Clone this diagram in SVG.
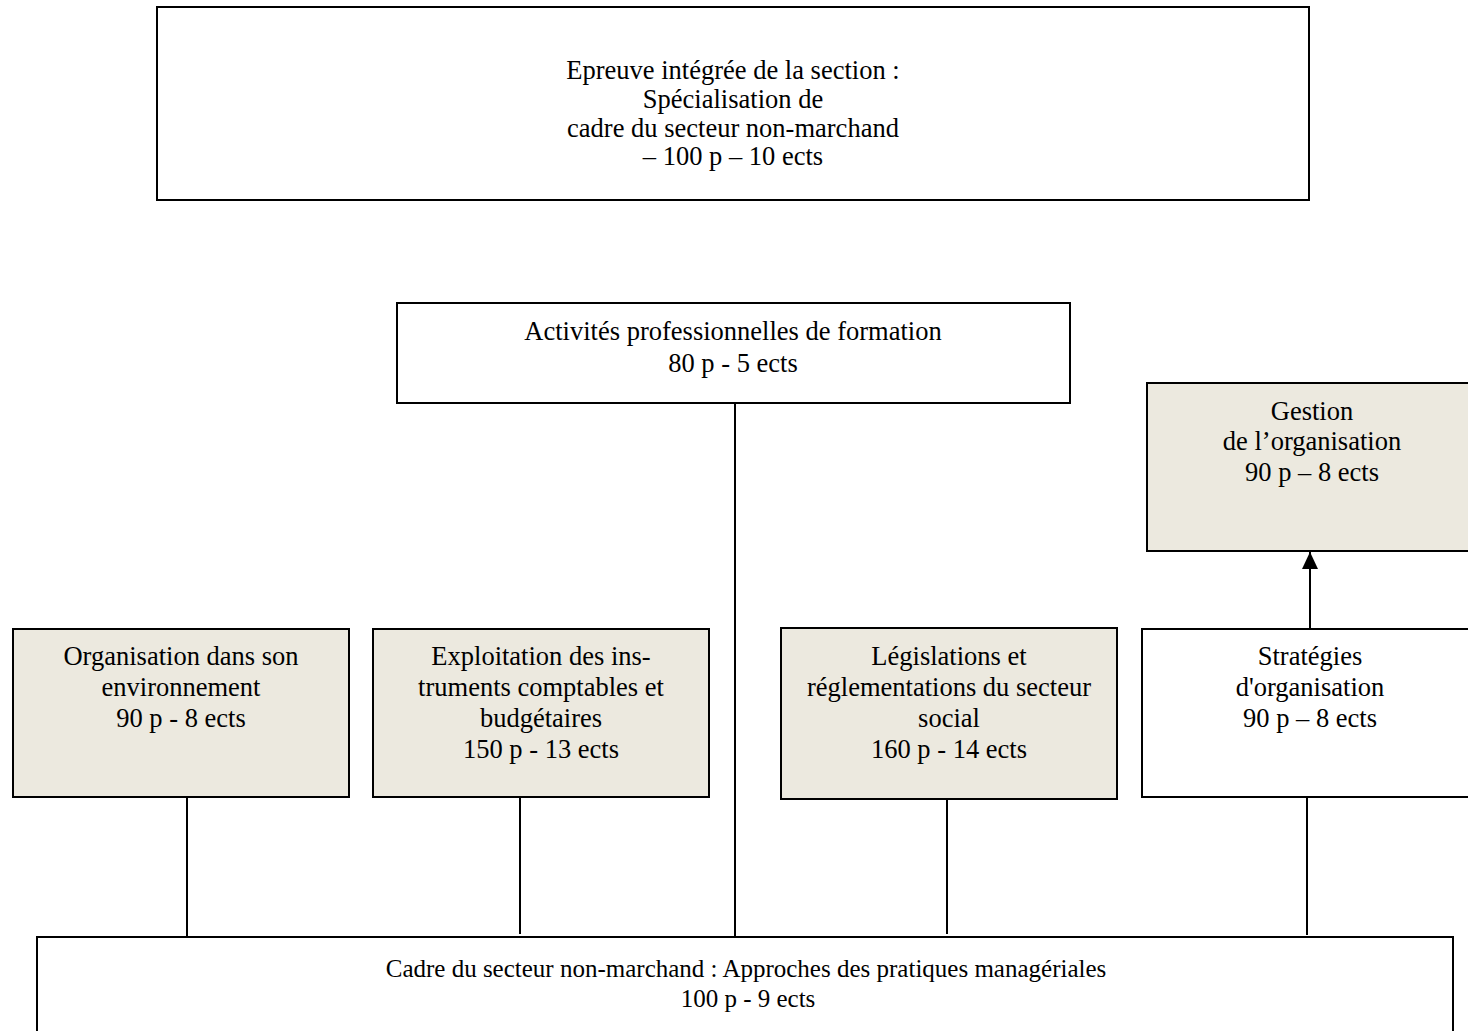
<svg xmlns="http://www.w3.org/2000/svg" width="1468" height="1031" viewBox="0 0 1468 1031">
<defs>
<style>
.box{fill:#ffffff;stroke:#000;stroke-width:2}
.sh{fill:#ECE9DF;stroke:#000;stroke-width:2}
.t{font-family:"Liberation Serif","Times New Roman",serif;font-size:26.5px;fill:#000;text-anchor:middle}
.s{font-size:25px}
.c{stroke:#000;stroke-width:2;fill:none}
</style>
<marker id="ah" markerWidth="18" markerHeight="16" refX="17" refY="8" orient="auto" markerUnits="userSpaceOnUse" viewBox="0 0 18 16">
<path d="M0,0 L17,8 L0,16 Z" fill="#000"/>
</marker>
</defs>
<rect width="1468" height="1031" fill="#fff"/>
<g id="connectors">
<line class="c" x1="187" y1="797" x2="187" y2="938"/>
<line class="c" x1="520" y1="797" x2="520" y2="934"/>
<line class="c" x1="735" y1="403" x2="735" y2="938"/>
<line class="c" x1="947" y1="799" x2="947" y2="934"/>
<line class="c" x1="1307" y1="797" x2="1307" y2="935"/>
<line class="c" x1="1310" y1="629" x2="1310" y2="552" marker-end="url(#ah)"/>
</g>
<g id="epreuve">
<rect class="box" x="157" y="7" width="1152" height="193"/>
<text class="t" x="733" y="79">Epreuve intégrée de la section :</text>
<text class="t" x="733" y="108">Spécialisation de</text>
<text class="t" x="733" y="137">cadre du secteur non-marchand</text>
<text class="t" x="733" y="165">– 100 p – 10 ects</text>
</g>
<g id="activites">
<rect class="box" x="397" y="303" width="673" height="100"/>
<text class="t" x="733" y="340">Activités professionnelles de formation</text>
<text class="t" x="733" y="372">80 p - 5 ects</text>
</g>
<g id="gestion">
<rect class="sh" x="1147" y="383" width="330" height="168"/>
<text class="t" x="1312" y="420">Gestion</text>
<text class="t" x="1312" y="450">de l’organisation</text>
<text class="t" x="1312" y="481">90 p – 8 ects</text>
</g>
<g id="organisation">
<rect class="sh" x="13" y="629" width="336" height="168"/>
<text class="t" x="181" y="665">Organisation dans son</text>
<text class="t" x="181" y="696">environnement</text>
<text class="t" x="181" y="727">90 p - 8 ects</text>
</g>
<g id="exploitation">
<rect class="sh" x="373" y="629" width="336" height="168"/>
<text class="t" x="541" y="665">Exploitation des ins-</text>
<text class="t" x="541" y="696">truments comptables et</text>
<text class="t" x="541" y="727">budgétaires</text>
<text class="t" x="541" y="758">150 p - 13 ects</text>
</g>
<g id="legislations">
<rect class="sh" x="781" y="628" width="336" height="171"/>
<text class="t" x="949" y="665">Législations et</text>
<text class="t" x="949" y="696">réglementations du secteur</text>
<text class="t" x="949" y="727">social</text>
<text class="t" x="949" y="758">160 p - 14 ects</text>
</g>
<g id="strategies">
<rect class="box" x="1142" y="629" width="336" height="168"/>
<text class="t" x="1310" y="665">Stratégies</text>
<text class="t" x="1310" y="696">d'organisation</text>
<text class="t" x="1310" y="727">90 p – 8 ects</text>
</g>
<g id="cadre">
<rect class="box" x="37" y="937" width="1416" height="110"/>
<text class="t s" x="746" y="977">Cadre du secteur non-marchand : Approches des pratiques managériales</text>
<text class="t s" x="748" y="1007">100 p - 9 ects</text>
</g>
</svg>
